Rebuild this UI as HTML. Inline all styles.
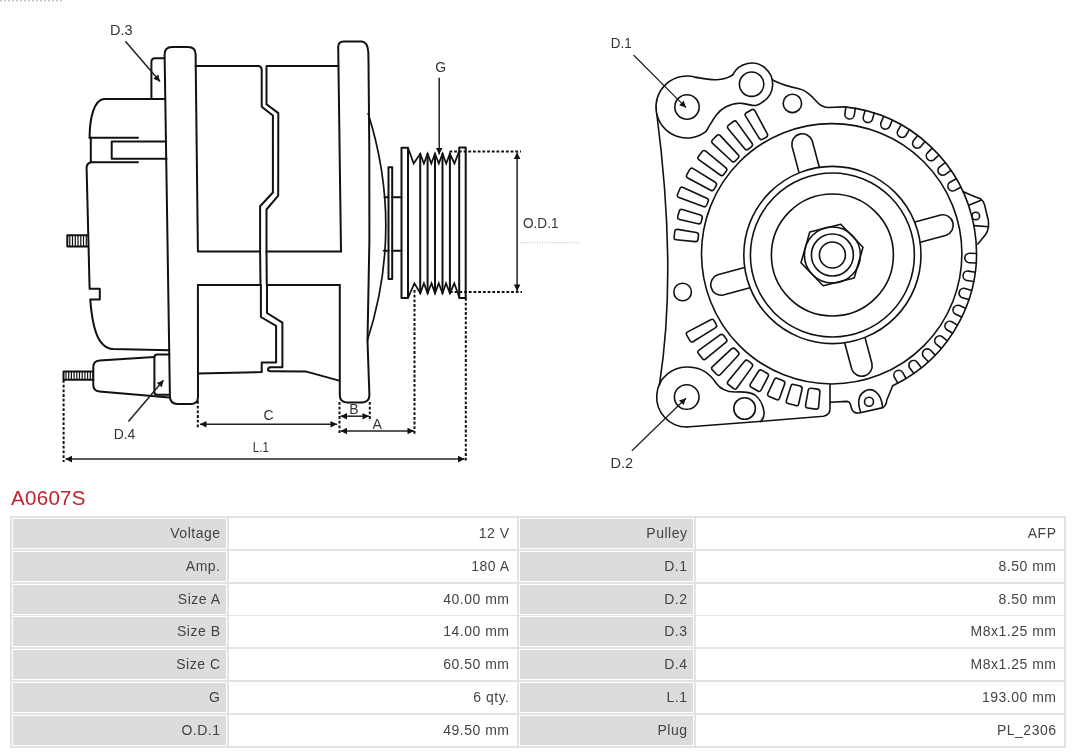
<!DOCTYPE html>
<html><head><meta charset="utf-8"><style>
html,body{margin:0;padding:0;background:#fff;width:1080px;height:753px;overflow:hidden;position:relative}
.c{position:absolute;font-family:"Liberation Sans",sans-serif;font-size:14px;color:#444;text-align:right;will-change:transform}
.c span{position:absolute;right:6.5px;letter-spacing:0.5px;top:50%;transform:translateY(-50%);line-height:16px;white-space:nowrap}
.t{position:absolute;left:11px;top:485.8px;letter-spacing:0.3px;will-change:transform;font-family:"Liberation Sans",sans-serif;font-size:20.5px;color:#c1232b;line-height:24px}
</style></head><body>
<svg width="1080" height="490" viewBox="0 0 1080 490" style="position:absolute;left:0;top:0;will-change:transform"><g fill="none" stroke="#111" stroke-width="2" stroke-linejoin="round" stroke-linecap="round"><path d="M197.9 251.6 L195.6 54 Q195.5 47 188 47 L172 47 Q164.5 47 164.6 55 L169.9 396 Q170 404 177.5 404 L190.5 404 Q198 404 198 397 L197.9 285.1"/><path d="M164.4 58.3 L155 58.3 Q151.4 58.3 151.4 62 L151.4 99"/><path d="M164.6 99 L104 99 C94 100 89.6 118 89.6 137.8"/><path d="M89.6 137.8 L138 137.8"/><path d="M90.8 137.8 L90.8 162.3 L138 162.3"/><path d="M166.2 141.4 L111.7 141.4 L111.7 158.7 L166.5 158.7"/><path d="M90.8 162.3 Q86.6 163.5 86.6 168 L89.6 288.7 L99.8 288.7 L99.8 299.4 L90.2 299.4 C92 322 96 348 113 349 L169.3 350.2"/><path d="M87.3 235.3 L67.3 235.3 L67.3 246.5 L87.3 246.5"/><path d="M169.3 354.5 L157 354.5 Q154.4 354.5 154.4 357.5 L154.4 392 Q154.4 394.8 157 394.8 L169.5 394.8"/><path d="M154.4 356.9 L99.5 360.6 Q93.3 361.2 93.3 367 L93.3 385 Q93.3 391 99.5 391.6 L169.5 397.5"/><path d="M93.3 371.4 L63.5 371.4 L63.5 379.7 L93.3 379.7"/><path d="M195.6 66.1 L258.5 66.1 Q261.7 66.5 261.7 70 L261.7 106.7 L272.9 115.5 L272.9 192.5 L260.1 206.3 L260.1 251.6 L199 251.6"/><path d="M338.2 66.1 L266.5 66.1 L266.5 104.3 L278.3 113.1 L278.2 195.7 L266.5 209.5 L266.5 251.6 L341 251.6"/><path d="M260.1 251.6 L260.5 285.1"/><path d="M266.5 251.6 L266.8 285.1"/><path d="M198 285.1 L260.9 285.1 L260.9 317 L276.1 325.8 L276.1 362.4 L261.7 362.4 L261.7 372 L198 373.6"/><path d="M339.8 285.1 L267 285.1 L267 313 L282.4 322.6 L282.4 367.2 L270.5 367.2 Q268 367.5 268 369.5 Q268 371.2 270.5 371.2 L305.5 371.4 L338.3 380.4"/><path d="M341 251.6 L338.2 47 Q338.4 41.5 343.5 41.5 L362 41.5 Q367.5 42 368.3 52 L368.5 62 L369.3 150 L369.4 240 L367.5 340.7 L369.4 395 Q369.4 402 362 402.5 L347 402.5 Q339.8 402 339.8 395 L339.8 285.1"/><path d="M388.5 279.1 L388.5 167.2 L392.2 167.2 L392.2 279.1 Z"/><path d="M384.5 197.3 L388.5 197.3 M392.2 197.3 L401.5 197.3"/><path d="M383.8 250.8 L388.5 250.8 M392.2 250.8 L401.5 250.8"/><path d="M401.5 298 L401.5 147.7 L408 147.7 L408 298 Z"/><path d="M459.2 298 L459.2 147.5 L465.7 147.5 L465.7 298 Z"/><path d="M420.2 153.8 L420.2 293.3"/><path d="M427.6 153.8 L427.6 293.3"/><path d="M435.0 153.8 L435.0 293.3"/><path d="M442.5 153.8 L442.5 293.3"/><path d="M449.9 153.8 L449.9 293.3"/></g><path d="M368 113 Q404 227 367.3 340.7" fill="none" stroke="#111" stroke-width="1.7"/><path d="M408 147.7 L413.7 163.5 L420.2 153.8 L423.9 163.5 L427.6 153.8 L431.3 163.5 L435 153.8 L438.8 163.5 L442.5 153.8 L446.2 163.5 L449.9 153.8 L454.5 163.5 L459.2 151 M408 298 L414.4 283.3 L420.3 293.3 L423.9 283.3 L427.6 293.3 L431.5 283.3 L435 293.3 L438.7 283.3 L442.5 293.3 L446 283.3 L449.9 293.3 L454.3 283.3 L459.2 297" fill="none" stroke="#111" stroke-width="1.75" stroke-linejoin="miter" stroke-miterlimit="10"/><g fill="none" stroke="#111" stroke-width="1.2"><path d="M69.8 235.3 L69.8 246.5"/><path d="M72.5 235.3 L72.5 246.5"/><path d="M75.3 235.3 L75.3 246.5"/><path d="M78.0 235.3 L78.0 246.5"/><path d="M80.8 235.3 L80.8 246.5"/><path d="M83.5 235.3 L83.5 246.5"/><path d="M86.3 235.3 L86.3 246.5"/><path d="M66.0 371.4 L66.0 379.7"/><path d="M68.7 371.4 L68.7 379.7"/><path d="M71.4 371.4 L71.4 379.7"/><path d="M74.1 371.4 L74.1 379.7"/><path d="M76.8 371.4 L76.8 379.7"/><path d="M79.5 371.4 L79.5 379.7"/><path d="M82.2 371.4 L82.2 379.7"/><path d="M84.9 371.4 L84.9 379.7"/><path d="M87.6 371.4 L87.6 379.7"/><path d="M90.3 371.4 L90.3 379.7"/><path d="M93.0 371.4 L93.0 379.7"/></g><g fill="none" stroke="#111" stroke-width="2" stroke-dasharray="2.8 1.9"><path d="M63.6 380 L63.6 462"/><path d="M197.8 401 L197.8 428"/><path d="M339.5 402 L339.5 435"/><path d="M369.8 402 L369.8 421"/><path d="M414.5 290 L414.5 435"/><path d="M465.8 298 L465.8 462"/><path d="M449.5 151.5 L521 151.5"/><path d="M450 291.9 L522 291.9"/></g><path d="M519.5 242.7 L580 242.7" stroke="#bbb" stroke-width="1" stroke-dasharray="1 1.5" fill="none"/><path d="M0 0.7 L64 0.7" stroke="#c8c8c8" stroke-width="1.4" stroke-dasharray="2 2" fill="none"/><path d="M439.2 77.8 L439.2 154.5" stroke="#222" stroke-width="1.5" fill="none"/><path d="M439.2 154.5 L435.9 148.0 L442.5 148.0 Z" fill="#111"/><path d="M517.1 152.5 L517.1 291.0" stroke="#222" stroke-width="1.5" fill="none"/><path d="M517.1 291.0 L513.8 284.5 L520.4 284.5 Z" fill="#111"/><path d="M517.1 152.5 L520.4 159.0 L513.8 159.0 Z" fill="#111"/><path d="M200.0 424.2 L337.0 424.2" stroke="#222" stroke-width="1.5" fill="none"/><path d="M337.0 424.2 L330.5 427.5 L330.5 420.9 Z" fill="#111"/><path d="M200.0 424.2 L206.5 420.9 L206.5 427.5 Z" fill="#111"/><path d="M340.5 416.2 L369.0 416.2" stroke="#222" stroke-width="1.5" fill="none"/><path d="M369.0 416.2 L362.5 419.5 L362.5 412.9 Z" fill="#111"/><path d="M340.5 416.2 L347.0 412.9 L347.0 419.5 Z" fill="#111"/><path d="M340.5 431.0 L414.0 431.0" stroke="#222" stroke-width="1.5" fill="none"/><path d="M414.0 431.0 L407.5 434.3 L407.5 427.7 Z" fill="#111"/><path d="M340.5 431.0 L347.0 427.7 L347.0 434.3 Z" fill="#111"/><path d="M65.5 459.1 L464.5 459.1" stroke="#222" stroke-width="1.5" fill="none"/><path d="M464.5 459.1 L458.0 462.4 L458.0 455.8 Z" fill="#111"/><path d="M65.5 459.1 L72.0 455.8 L72.0 462.4 Z" fill="#111"/><path d="M125.4 41.3 L160.0 81.5" stroke="#222" stroke-width="1.5" fill="none"/><path d="M160.0 81.5 L153.3 78.7 L158.3 74.4 Z" fill="#111"/><path d="M128.4 421.6 L163.5 380.2" stroke="#222" stroke-width="1.5" fill="none"/><path d="M163.5 380.2 L161.8 387.3 L156.8 383.0 Z" fill="#111"/><path d="M633.5 55.0 L686.0 107.6" stroke="#222" stroke-width="1.3" fill="none"/><path d="M686.0 107.6 L679.1 105.3 L683.7 100.7 Z" fill="#111"/><path d="M631.9 450.8 L686.0 398.2" stroke="#222" stroke-width="1.3" fill="none"/><path d="M686.0 398.2 L683.6 405.1 L679.0 400.4 Z" fill="#111"/><g fill="none" stroke="#111" stroke-width="1.6" stroke-linejoin="round" stroke-linecap="round"><circle cx="832.4" cy="255" r="13"/><circle cx="832.4" cy="255" r="21"/><circle cx="832.4" cy="255" r="28"/><circle cx="832.4" cy="255" r="61"/><circle cx="832.4" cy="255" r="82"/><circle cx="832.4" cy="255" r="88.6"/><circle cx="831.7" cy="253.8" r="130.2"/><path d="M863.0 247.3 L854.2 278.0 L823.2 285.8 L801.0 262.7 L809.8 232.0 L840.8 224.2 Z"/><path d="M819.2 166.7 L812.2 140.7 A10.5 10.5 0 0 0 792.0 146.2 L798.9 172.1"/><path d="M920.3 242.2 L946.3 235.2 A10.5 10.5 0 0 0 940.8 215.0 L914.9 221.9"/><path d="M844.8 343.3 L851.8 369.3 A10.5 10.5 0 0 0 872.0 363.8 L865.1 337.9"/><path d="M743.7 267.8 L717.7 274.8 A10.5 10.5 0 0 0 723.2 295.0 L749.1 288.1"/><path d="M844.8 106.9 A147.0 147.0 0 0 1 892.7 385.8"/><path d="M855.3 108.4 L854.3 115.0 A4.75 4.75 0 0 1 844.9 113.6 L845.9 107.0"/><path d="M874.2 113.1 L872.4 119.5 A4.75 4.75 0 0 1 863.3 116.9 L865.1 110.5"/><path d="M892.3 120.3 L889.7 126.4 A4.75 4.75 0 0 1 881.0 122.6 L883.6 116.5"/><path d="M909.4 129.7 L905.9 135.5 A4.75 4.75 0 0 1 897.8 130.6 L901.2 124.8"/><path d="M925.0 141.4 L920.8 146.6 A4.75 4.75 0 0 1 913.4 140.7 L917.6 135.5"/><path d="M938.9 155.0 L934.1 159.6 A4.75 4.75 0 0 1 927.5 152.8 L932.3 148.2"/><path d="M950.9 170.4 L945.5 174.3 A4.75 4.75 0 0 1 939.9 166.6 L945.3 162.7"/><path d="M960.8 187.2 L954.9 190.4 A4.75 4.75 0 0 1 950.4 182.0 L956.3 178.8"/><path d="M976.1 263.0 L969.4 262.7 A4.75 4.75 0 0 1 969.7 253.2 L976.4 253.5"/><path d="M973.6 281.5 L967.0 280.5 A4.75 4.75 0 0 1 968.6 271.1 L975.2 272.2"/><path d="M968.8 299.6 L962.4 297.7 A4.75 4.75 0 0 1 965.2 288.6 L971.6 290.5"/><path d="M961.8 317.0 L955.7 314.3 A4.75 4.75 0 0 1 959.5 305.6 L965.6 308.3"/><path d="M952.6 333.3 L946.9 329.8 A4.75 4.75 0 0 1 951.8 321.7 L957.5 325.1"/><path d="M941.4 348.3 L936.2 344.1 A4.75 4.75 0 0 1 942.1 336.7 L947.3 340.8"/><path d="M928.4 361.7 L923.8 357.0 A4.75 4.75 0 0 1 930.6 350.3 L935.2 355.1"/><path d="M913.8 373.4 L909.8 368.1 A4.75 4.75 0 0 1 917.4 362.4 L921.4 367.7"/><path d="M897.8 383.2 L894.5 377.4 A4.75 4.75 0 0 1 902.8 372.7 L906.1 378.5"/><path d="M762.8 139.1 Q760.7 140.4 759.3 138.3 L745.6 116.2 Q744.3 114.1 746.4 112.8 L751.6 109.8 Q753.8 108.6 755.0 110.8 L767.2 133.7 Q768.4 135.9 766.2 137.2 Z"/><path d="M748.3 149.2 Q746.3 150.7 744.7 148.7 L728.2 128.7 Q726.6 126.7 728.6 125.2 L733.4 121.5 Q735.4 120.0 736.8 122.1 L752.0 143.2 Q753.4 145.2 751.4 146.8 Z"/><path d="M735.2 161.0 Q733.4 162.8 731.6 161.0 L712.6 143.3 Q710.8 141.6 712.6 139.8 L716.8 135.6 Q718.6 133.8 720.3 135.6 L738.0 154.6 Q739.8 156.4 738.0 158.2 Z"/><path d="M723.8 174.4 Q722.2 176.4 720.2 175.0 L699.1 159.8 Q697.0 158.4 698.5 156.4 L702.2 151.6 Q703.7 149.6 705.7 151.2 L725.7 167.7 Q727.7 169.3 726.2 171.3 Z"/><path d="M714.2 189.2 Q712.9 191.4 710.7 190.2 L687.8 178.0 Q685.6 176.8 686.8 174.6 L689.8 169.4 Q691.1 167.3 693.2 168.6 L715.3 182.3 Q717.4 183.7 716.1 185.8 Z"/><path d="M706.6 205.2 Q705.6 207.5 703.3 206.6 L679.0 197.5 Q676.6 196.6 677.6 194.3 L679.9 188.7 Q680.8 186.4 683.1 187.5 L706.8 198.2 Q709.1 199.2 708.1 201.5 Z"/><path d="M701.2 222.0 Q700.5 224.4 698.1 223.8 L679.6 219.5 Q677.1 219.0 677.8 216.5 L679.2 211.2 Q679.9 208.8 682.3 209.5 L700.4 215.0 Q702.8 215.8 702.2 218.2 Z"/><path d="M698.0 239.3 Q697.6 241.8 695.2 241.6 L676.2 239.7 Q673.8 239.5 674.1 237.0 L674.8 231.5 Q675.1 229.0 677.6 229.4 L696.3 232.5 Q698.8 233.0 698.5 235.4 Z"/><path d="M716.2 324.3 Q717.5 326.4 715.3 327.8 L693.3 341.5 Q691.1 342.8 689.9 340.7 L686.7 335.2 Q685.5 333.1 687.7 331.9 L710.7 319.7 Q712.9 318.5 714.1 320.6 Z"/><path d="M726.2 338.8 Q727.8 340.8 725.8 342.4 L705.7 358.9 Q703.8 360.5 702.3 358.5 L698.5 353.5 Q696.9 351.5 699.0 350.1 L720.1 334.9 Q722.2 333.5 723.7 335.5 Z"/><path d="M738.1 351.9 Q739.8 353.7 738.1 355.5 L720.4 374.5 Q718.7 376.3 716.9 374.5 L712.5 370.1 Q710.7 368.3 712.5 366.6 L731.5 348.9 Q733.3 347.2 735.1 348.9 Z"/><path d="M751.5 363.3 Q753.5 364.8 752.1 366.9 L736.9 388.0 Q735.5 390.1 733.5 388.5 L728.5 384.7 Q726.5 383.2 728.1 381.3 L744.6 361.2 Q746.2 359.2 748.2 360.8 Z"/><path d="M767.1 373.3 Q769.2 374.5 768.1 376.7 L761.1 390.0 Q759.9 392.2 757.8 391.0 L751.3 387.3 Q749.2 386.0 750.5 383.9 L758.5 371.2 Q759.9 369.1 762.0 370.4 Z"/><path d="M783.2 380.8 Q785.5 381.7 784.6 384.1 L779.5 398.2 Q778.6 400.5 776.3 399.6 L769.2 396.6 Q766.9 395.6 767.9 393.4 L774.2 379.8 Q775.3 377.5 777.6 378.5 Z"/><path d="M800.1 386.1 Q802.6 386.7 802.0 389.2 L798.7 403.8 Q798.2 406.3 795.8 405.6 L788.1 403.6 Q785.6 402.9 786.4 400.5 L790.9 386.2 Q791.6 383.8 794.0 384.5 Z"/><path d="M817.6 389.1 Q820.1 389.5 819.9 392.0 L818.6 406.9 Q818.4 409.4 815.9 409.1 L807.7 408.0 Q805.2 407.7 805.6 405.2 L808.2 390.4 Q808.7 388.0 811.2 388.3 Z"/><path d="M706.1 131.4 A31 31 0 1 1 696.1 77.4"/><path d="M696.1 77.4 C710 80 724 82 732.9 74.7"/><path d="M732.9 74.7 A21 21 0 1 1 763.6 101.4"/><path d="M706.1 131.4 C712 122 716 112 725.6 107 C732 103.5 738 103 742 103.4 C748 104 752 106 756 105.5 C759 105 761 103.5 763.6 101.4"/><path d="M772.1 79.8 C780 84 790 87 799 88.7 C806 90 812 96 817 102 C820 105.5 823 107 828 107.5 L844.8 106.9"/><path d="M656.8 114.0 Q677.3 271 659.5 384.3"/><path d="M686.7 427.0 A30 30 0 1 1 690.9 367.3"/><path d="M690.9 367.3 C702 368 710 374 716 383 C721 390 727 392 735 392 C744 391.5 750 392 755 395 C760 399 763 404 764 412 C764.5 416 763 419 760.8 421.6"/><path d="M686.7 427.0 L759 421.5 L823.5 416.2 Q830 415 830 409 L830 384.8"/><path d="M830 402.3 L847 401.4 Q849.5 401.6 850.3 404 L851.8 409.3 Q854 413.5 859 413 L883 407.6 Q886.5 405 886.8 400 L892.7 385.8"/><path d="M860.6 412.2 C858 404 857 396 865 391 C872 387 881 392 882.5 406.5"/><circle cx="869" cy="401.8" r="4.5"/><path d="M962.9 191.5 C970 195 976 197 980.3 198.7 Q983.6 201 984.6 205 L988.3 220.2 Q989.5 229 985.6 234.5 L977.9 244.1"/><path d="M968.9 205.3 L981 200.3"/><path d="M973.7 225.6 L988.6 226.8"/><circle cx="975.8" cy="216" r="3.8"/><circle cx="687" cy="107" r="12.2"/><circle cx="751.6" cy="84.2" r="12.2"/><circle cx="792.4" cy="103.4" r="9.2"/><circle cx="682.6" cy="292" r="8.8"/><circle cx="686.7" cy="397" r="12.3"/><circle cx="744.6" cy="408.5" r="10.8"/></g><g font-family="Liberation Sans, sans-serif" font-size="14" fill="#333" opacity="0.99"><text x="110.0" y="34.6" textLength="22.6" lengthAdjust="spacingAndGlyphs">D.3</text><text x="435.3" y="72.4">G</text><text x="523.0" y="227.9" textLength="35.5" lengthAdjust="spacingAndGlyphs">O.D.1</text><text x="349.2" y="413.7">B</text><text x="263.4" y="419.9">C</text><text x="372.6" y="428.9">A</text><text x="252.8" y="452.2" textLength="16.1" lengthAdjust="spacingAndGlyphs">L.1</text><text x="113.7" y="438.8" textLength="21.6" lengthAdjust="spacingAndGlyphs">D.4</text><text x="610.8" y="48.2" textLength="20.9" lengthAdjust="spacingAndGlyphs">D.1</text><text x="610.5" y="467.9" textLength="22.7" lengthAdjust="spacingAndGlyphs">D.2</text></g></svg>
<div class="t">A0607S</div>
<div style="position:absolute;left:10px;top:516px;width:1056px;height:231.5px;background:#e3e3e3"></div><div class="c" style="left:12px;top:518.00px;width:215px;height:30.79px;background:#dcdcdc;border:1px solid #fff;box-sizing:border-box;"><span style="right:5.5px">Voltage</span></div><div class="c" style="left:229px;top:518.00px;width:288px;height:30.79px;background:#fff;border:1px solid #fff;box-sizing:border-box;"><span style="right:6.5px">12 V</span></div><div class="c" style="left:519px;top:518.00px;width:175px;height:30.79px;background:#dcdcdc;border:1px solid #fff;box-sizing:border-box;"><span style="right:5.5px">Pulley</span></div><div class="c" style="left:696px;top:518.00px;width:368px;height:30.79px;background:#fff;border:1px solid #fff;box-sizing:border-box;"><span style="right:6.5px">AFP</span></div><div class="c" style="left:12px;top:550.79px;width:215px;height:30.79px;background:#dcdcdc;border:1px solid #fff;box-sizing:border-box;"><span style="right:5.5px">Amp.</span></div><div class="c" style="left:229px;top:550.79px;width:288px;height:30.79px;background:#fff;border:1px solid #fff;box-sizing:border-box;"><span style="right:6.5px">180 A</span></div><div class="c" style="left:519px;top:550.79px;width:175px;height:30.79px;background:#dcdcdc;border:1px solid #fff;box-sizing:border-box;"><span style="right:5.5px">D.1</span></div><div class="c" style="left:696px;top:550.79px;width:368px;height:30.79px;background:#fff;border:1px solid #fff;box-sizing:border-box;"><span style="right:6.5px">8.50 mm</span></div><div class="c" style="left:12px;top:583.57px;width:215px;height:30.79px;background:#dcdcdc;border:1px solid #fff;box-sizing:border-box;"><span style="right:5.5px">Size A</span></div><div class="c" style="left:229px;top:583.57px;width:288px;height:30.79px;background:#fff;border:1px solid #fff;box-sizing:border-box;"><span style="right:6.5px">40.00 mm</span></div><div class="c" style="left:519px;top:583.57px;width:175px;height:30.79px;background:#dcdcdc;border:1px solid #fff;box-sizing:border-box;"><span style="right:5.5px">D.2</span></div><div class="c" style="left:696px;top:583.57px;width:368px;height:30.79px;background:#fff;border:1px solid #fff;box-sizing:border-box;"><span style="right:6.5px">8.50 mm</span></div><div class="c" style="left:12px;top:616.36px;width:215px;height:30.79px;background:#dcdcdc;border:1px solid #fff;box-sizing:border-box;"><span style="right:5.5px">Size B</span></div><div class="c" style="left:229px;top:616.36px;width:288px;height:30.79px;background:#fff;border:1px solid #fff;box-sizing:border-box;"><span style="right:6.5px">14.00 mm</span></div><div class="c" style="left:519px;top:616.36px;width:175px;height:30.79px;background:#dcdcdc;border:1px solid #fff;box-sizing:border-box;"><span style="right:5.5px">D.3</span></div><div class="c" style="left:696px;top:616.36px;width:368px;height:30.79px;background:#fff;border:1px solid #fff;box-sizing:border-box;"><span style="right:6.5px">M8x1.25 mm</span></div><div class="c" style="left:12px;top:649.14px;width:215px;height:30.79px;background:#dcdcdc;border:1px solid #fff;box-sizing:border-box;"><span style="right:5.5px">Size C</span></div><div class="c" style="left:229px;top:649.14px;width:288px;height:30.79px;background:#fff;border:1px solid #fff;box-sizing:border-box;"><span style="right:6.5px">60.50 mm</span></div><div class="c" style="left:519px;top:649.14px;width:175px;height:30.79px;background:#dcdcdc;border:1px solid #fff;box-sizing:border-box;"><span style="right:5.5px">D.4</span></div><div class="c" style="left:696px;top:649.14px;width:368px;height:30.79px;background:#fff;border:1px solid #fff;box-sizing:border-box;"><span style="right:6.5px">M8x1.25 mm</span></div><div class="c" style="left:12px;top:681.93px;width:215px;height:30.79px;background:#dcdcdc;border:1px solid #fff;box-sizing:border-box;"><span style="right:5.5px">G</span></div><div class="c" style="left:229px;top:681.93px;width:288px;height:30.79px;background:#fff;border:1px solid #fff;box-sizing:border-box;"><span style="right:6.5px">6 qty.</span></div><div class="c" style="left:519px;top:681.93px;width:175px;height:30.79px;background:#dcdcdc;border:1px solid #fff;box-sizing:border-box;"><span style="right:5.5px">L.1</span></div><div class="c" style="left:696px;top:681.93px;width:368px;height:30.79px;background:#fff;border:1px solid #fff;box-sizing:border-box;"><span style="right:6.5px">193.00 mm</span></div><div class="c" style="left:12px;top:714.71px;width:215px;height:30.79px;background:#dcdcdc;border:1px solid #fff;box-sizing:border-box;"><span style="right:5.5px">O.D.1</span></div><div class="c" style="left:229px;top:714.71px;width:288px;height:30.79px;background:#fff;border:1px solid #fff;box-sizing:border-box;"><span style="right:6.5px">49.50 mm</span></div><div class="c" style="left:519px;top:714.71px;width:175px;height:30.79px;background:#dcdcdc;border:1px solid #fff;box-sizing:border-box;"><span style="right:5.5px">Plug</span></div><div class="c" style="left:696px;top:714.71px;width:368px;height:30.79px;background:#fff;border:1px solid #fff;box-sizing:border-box;"><span style="right:6.5px">PL_2306</span></div>
</body></html>
